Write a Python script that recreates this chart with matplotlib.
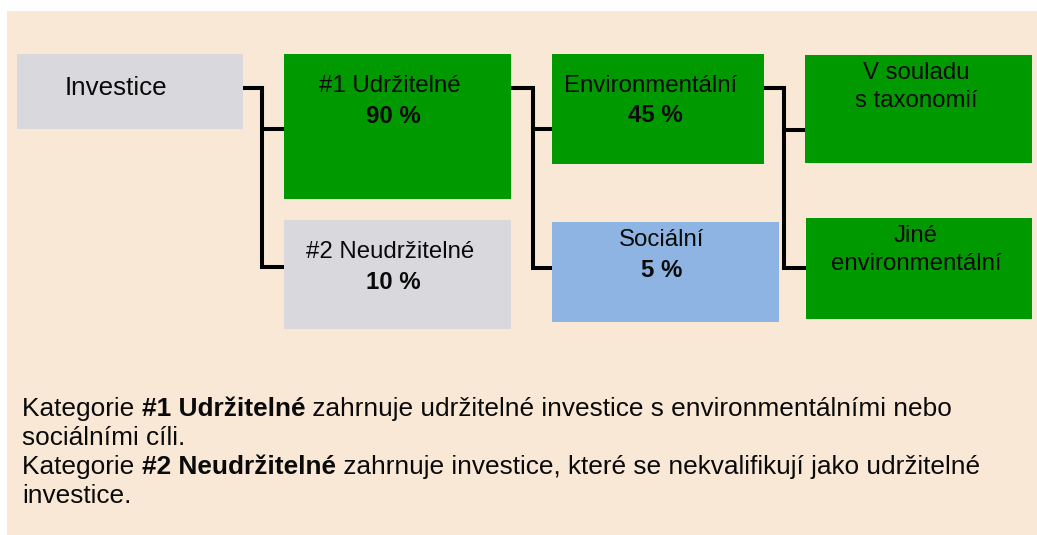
import matplotlib
matplotlib.use("Agg")
import matplotlib.pyplot as plt
from matplotlib.patches import Rectangle

# ---- data ----
box_titles = ["Investice", "#1 Udržitelné", "#2 Neudržitelné", "Environmentální",
              "Sociální", "V souladu\ns taxonomií", "Jiné\nenvironmentální"]
box_values = [None, "90 %", "10 %", "45 %", "5 %", None, None]
box_colors = ["#D9D8DD", "#009900", "#D9D8DD", "#009900", "#8DB4E2", "#009900", "#009900"]
# tree links: (parent index, child index)
links = [(0, 1), (0, 2), (1, 3), (1, 4), (3, 5), (3, 6)]
note_lines = [
    [("Kategorie ", "normal"), ("#1 Udržitelné", "bold"),
     (" zahrnuje udržitelné investice s environmentálními nebo", "normal")],
    [("sociálními cíli.", "normal")],
    [("Kategorie ", "normal"), ("#2 Neudržitelné", "bold"),
     (" zahrnuje investice, které se nekvalifikují jako udržitelné", "normal")],
    [("investice.", "normal")],
]

# ---- layout (pixels) ----
W, H = 1037, 535
box_rects = [  # x0, y0, x1, y1
    (17, 54, 243, 129),
    (284, 54, 511, 199),
    (284, 220, 511, 329),
    (552, 54, 764, 164),
    (552, 222, 779, 322),
    (805, 55, 1032, 163),
    (806, 218, 1032, 319),
]
title_baselines = [95, 92, 258, 92, 246, 79, 242]
title_cx = [116, 390, 390, 651, 662, 916, 916]
value_baselines = [None, 123, 289, 122, 277, None, None]
value_cx = [None, 393, 393, 655, 662, None, None]
title_size = [18.7, 17.3, 17.3, 17.3, 17.3, 17.3, 17.3]
line_gap = 28
junction_x = {0: 262, 1: 533, 3: 784}
parent_y = {0: 88, 1: 88, 3: 88}
child_y = {1: 129, 2: 267, 3: 129, 4: 268, 5: 130, 6: 268}
note_x = 22
note_baselines = [416, 445, 474, 503]
note_size = 18.9

fig = plt.figure(figsize=(W / 100, H / 100), dpi=100)
fig.patch.set_facecolor("white")
ax = fig.add_axes([0, 0, 1, 1])
ax.set_xlim(0, W)
ax.set_ylim(H, 0)
ax.axis("off")

ax.add_patch(Rectangle((7, 11), W - 7, H - 11, facecolor="#FAE8D7", edgecolor="none", zorder=0))

font = "Liberation Sans"
txt_color = "#0a0a0a"

# connectors
lw = 2.9
for p, c in links:
    jx = junction_x[p]
    px1 = box_rects[p][2]
    ax.plot([px1, jx], [parent_y[p], parent_y[p]], color="black", lw=lw, solid_capstyle="butt", zorder=1)
    ax.plot([jx, jx], [parent_y[p], child_y[c]], color="black", lw=lw, solid_capstyle="projecting", zorder=1)
    ax.plot([jx, box_rects[c][0]], [child_y[c], child_y[c]], color="black", lw=lw, solid_capstyle="butt", zorder=1)

# boxes
for i, (x0, y0, x1, y1) in enumerate(box_rects):
    ax.add_patch(Rectangle((x0, y0), x1 - x0, y1 - y0, facecolor=box_colors[i], edgecolor="none", zorder=2))
    for k, line in enumerate(box_titles[i].split("\n")):
        ax.text(title_cx[i], title_baselines[i] + k * line_gap, line, ha="center", va="baseline",
                fontsize=title_size[i], family=font, color=txt_color, zorder=3)
    if box_values[i]:
        ax.text(value_cx[i], value_baselines[i], box_values[i], ha="center", va="baseline",
                fontsize=17.3, family=font, fontweight="bold", color=txt_color, zorder=3)

# notes with mixed weights
fig.canvas.draw()
renderer = fig.canvas.get_renderer()
for parts, yb in zip(note_lines, note_baselines):
    x = note_x
    for txt, wt in parts:
        t = ax.text(x, yb, txt, ha="left", va="baseline", fontsize=note_size, family=font,
                    fontweight=wt, color=txt_color, zorder=3)
        bb = t.get_window_extent(renderer=renderer)
        x += bb.width  # 1 data unit == 1 pixel

fig.savefig("out.png", dpi=100, facecolor="white")
